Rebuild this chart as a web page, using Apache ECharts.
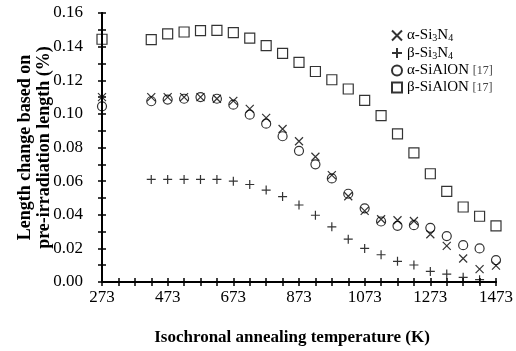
<!DOCTYPE html>
<html>
<head>
<meta charset="utf-8">
<script src="https://cdn.jsdelivr.net/npm/echarts@6/dist/echarts.min.js"></script>
<style>
  html, body { margin: 0; padding: 0; background: #fff; }
  #chart { width: 516px; height: 351px; }
</style>
</head>
<body>
<div id="chart"></div>
<script>
// temperatures (K)
const temps = [273, 423, 473, 523, 573, 623, 673, 723, 773, 823, 873, 923, 973, 1023, 1073, 1123, 1173, 1223, 1273, 1323, 1373, 1423, 1473]
const tempsBetaSi3N4 = [423, 473, 523, 573, 623, 673, 723, 773, 823, 873, 923, 973, 1023, 1073, 1123, 1173, 1223, 1273, 1323, 1373, 1423]
// length change (%)
const alphaSi3N4 = [0.110, 0.110, 0.110, 0.110, 0.110, 0.109, 0.1077, 0.103, 0.0976, 0.091, 0.0837, 0.0745, 0.0636, 0.051, 0.0423, 0.0373, 0.0367, 0.0363, 0.0284, 0.0215, 0.014, 0.0077, 0.0097]
const betaSi3N4 = [0.061, 0.061, 0.061, 0.061, 0.061, 0.060, 0.058, 0.0547, 0.0508, 0.0458, 0.0397, 0.0328, 0.0255, 0.020, 0.0162, 0.0123, 0.0101, 0.0063, 0.0047, 0.0028, 0.0014]
const alphaSiAlON = [0.1045, 0.1075, 0.1085, 0.109, 0.110, 0.109, 0.1055, 0.0995, 0.0942, 0.0867, 0.078, 0.070, 0.0616, 0.0525, 0.0438, 0.036, 0.0334, 0.0338, 0.0322, 0.0273, 0.0219, 0.020, 0.013]
const betaSiAlON = [0.1444, 0.1442, 0.1476, 0.1487, 0.1495, 0.1497, 0.1483, 0.145, 0.1406, 0.136, 0.1306, 0.1252, 0.1203, 0.1148, 0.108, 0.099, 0.0881, 0.0768, 0.0644, 0.0539, 0.0446, 0.0391, 0.0334]
const xTickLabels = [273, 473, 673, 873, 1073, 1273, 1473]
const seriesNames = ['α-Si3N4', 'β-Si3N4', 'α-SiAlON [17]', 'β-SiAlON [17]']

// axis starts at 273 K, ticks every 50 K -> plot as offset from 273
const T0 = 273
const font = 'Liberation Serif'
const pairs = (xs, ys) => ys.map((v, i) => [xs[i] - T0, v])

const richNames = {
  'α-Si3N4': '{n|α-Si}{s|3}{n|N}{s|4}',
  'β-Si3N4': '{n|β-Si}{s|3}{n|N}{s|4}',
  'α-SiAlON [17]': '{n|α-SiAlON }{r|[17]}',
  'β-SiAlON [17]': '{n|β-SiAlON }{r|[17]}'
}

const markStyle = { color: 'transparent', borderColor: '#000', borderWidth: 1.2 }

const axisCommonX = {
  type: 'value', min: 0, max: 1200, interval: 50,
  axisLine: { show: true, lineStyle: { color: '#000', width: 2 } },
  axisTick: { show: true, inside: true, length: 4, lineStyle: { color: '#000', width: 1.5 } },
  splitLine: { show: false }
}
const axisCommonY = {
  type: 'value', min: 0, max: 0.16, interval: 0.01,
  axisLine: { show: true, lineStyle: { color: '#000', width: 2 } },
  axisTick: { show: true, inside: true, length: 4, lineStyle: { color: '#000', width: 1.5 } },
  splitLine: { show: false }
}

const chart = echarts.init(document.getElementById('chart'))
chart.setOption({
  animation: false,
  grid: { left: 102, right: 19, top: 13, bottom: 68 },
  legend: {
    orient: 'vertical',
    left: 386, top: 23,
    itemWidth: 10, itemHeight: 10, itemGap: 2,
    data: seriesNames,
    formatter: name => richNames[name],
    textStyle: {
      fontFamily: font, fontSize: 15, color: '#000',
      rich: {
        n: { fontFamily: font, fontSize: 15, color: '#000', lineHeight: 16 },
        s: { fontFamily: font, fontSize: 10, color: '#000', lineHeight: 10, verticalAlign: 'bottom' },
        r: { fontFamily: font, fontSize: 12, color: '#444', lineHeight: 16 }
      }
    }
  },
  xAxis: [
    {
      ...axisCommonX,
      position: 'bottom',
      name: 'Isochronal annealing temperature (K)',
      nameLocation: 'middle',
      nameGap: 47,
      nameMoveOverlap: false,
      nameTextStyle: { fontFamily: font, fontSize: 17, fontWeight: 'bold', color: '#000', padding: [0, 14, 0, 0] },
      axisLabel: {
        fontFamily: font, fontSize: 17, color: '#000', margin: 7,
        formatter: v => xTickLabels.includes(v + T0) ? String(v + T0) : ''
      }
    },
    { ...axisCommonX, position: 'top', axisLabel: { show: false } }
  ],
  yAxis: [
    {
      ...axisCommonY,
      position: 'left',
      name: 'Length change based on\npre-irradiation length (%)',
      nameLocation: 'middle',
      nameRotate: 90,
      nameGap: 48,
      nameMoveOverlap: false,
      nameTextStyle: { fontFamily: font, fontSize: 18, fontWeight: 'bold', color: '#000', lineHeight: 19 },
      axisLabel: {
        fontFamily: font, fontSize: 17, color: '#000', margin: 19,
        formatter: v => Math.round(v * 100) % 2 === 0 ? v.toFixed(2) : ''
      }
    },
    { ...axisCommonY, position: 'right', axisLabel: { show: false } }
  ],
  series: [
    {
      name: seriesNames[0], type: 'scatter',
      symbol: 'path://M0,0L10,10M10,0L0,10', symbolSize: 8,
      itemStyle: markStyle,
      data: pairs(temps, alphaSi3N4)
    },
    {
      name: seriesNames[1], type: 'scatter',
      symbol: 'path://M5,0L5,10M0,5L10,5', symbolSize: 9,
      itemStyle: markStyle,
      data: pairs(tempsBetaSi3N4, betaSi3N4)
    },
    {
      name: seriesNames[2], type: 'scatter',
      symbol: 'circle', symbolSize: 9,
      itemStyle: markStyle,
      data: pairs(temps, alphaSiAlON)
    },
    {
      name: seriesNames[3], type: 'scatter',
      symbol: 'rect', symbolSize: 10,
      itemStyle: markStyle,
      data: pairs(temps, betaSiAlON)
    }
  ]
})
</script>
</body>
</html>
